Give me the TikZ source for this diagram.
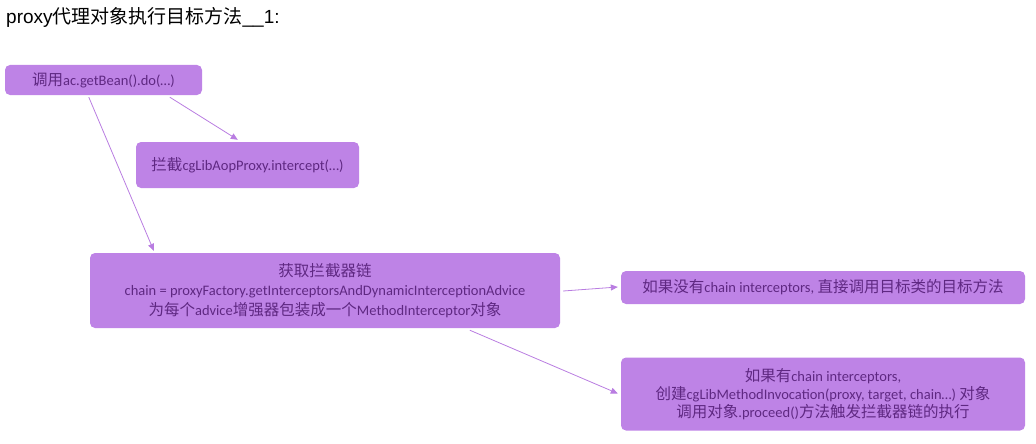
\documentclass[tikz,border=0pt]{standalone}
\usepackage{fontspec}
\setmainfont{Carlito}
\newfontfamily\cjk[Scale=1.07]{Noto Sans CJK SC}
\newfontfamily\titlecjk{Noto Sans CJK SC}
\newfontfamily\titlelat{Liberation Sans}
\usetikzlibrary{calc,arrows.meta}
\definecolor{boxfill}{RGB}{190,131,230}
\definecolor{boxtext}{RGB}{95,40,130}
\definecolor{linkcol}{RGB}{185,125,225}
\newcommand\zh[1]{{\cjk #1}}
\tikzset{
  pbox/.style={draw=none, fill=boxfill, rounded corners=5pt, text=boxtext,
    font=\fontsize{14.5}{18.5}\selectfont, align=center, inner sep=0pt},
  link/.style={draw=linkcol, line width=0.8pt, -{Triangle[length=7pt,width=6pt]}}
}
\begin{document}
\begin{tikzpicture}[x=1pt,y=-1pt]
\useasboundingbox (0,0) rectangle (1036,444);
\node[anchor=base west, inner sep=0pt, font=\fontsize{19}{22}\selectfont] (title) at (6,24)
  {\titlelat proxy{\titlecjk 代理对象执行目标方法}\_\_1:};
\node[pbox, minimum width=197pt, minimum height=30pt] (A) at (103.5,80)
  {\zh{调用}ac.getBean().do(…)};
\node[pbox, minimum width=223pt, minimum height=46pt] (B) at (247.5,165)
  {\zh{拦截}cgLibAopProxy.intercept(…)};
\node[pbox, minimum width=470pt, minimum height=75pt, font=\fontsize{14.5}{19.5}\selectfont] (C) at (325,290.5)
  {\zh{获取拦截器链}\\chain = proxyFactory.getInterceptorsAndDynamicInterceptionAdvice\\\zh{为每个}advice\zh{增强器包装成一个}MethodInterceptor\zh{对象}};
\node[pbox, minimum width=404pt, minimum height=33pt] (D) at (823,287.5)
  {\zh{如果没有}chain interceptors, \zh{直接调用目标类的目标方法}};
\node[pbox, minimum width=404pt, minimum height=73pt, font=\fontsize{14.5}{18}\selectfont] (E) at (823,394)
  {\zh{如果有}chain interceptors,\\\zh{创建}cgLibMethodInvocation(proxy, target, chain…) \zh{对象}\\\zh{调用对象}.proceed()\zh{方法触发拦截器链的执行}};
\draw[link] ($(A.south west)+(165,2)$) -- ($(B.north west)+(102,-2)$);
\draw[link] ($(A.south west)+(84,2)$) -- ($(C.north west)+(64,-2)$);
\draw[link] ($(C.east)+(3,0.5)$) -- ($(D.west)+(-3,-0.5)$);
\draw[link] ($(C.south west)+(380,2)$) -- ($(E.west)+(-3,-0.5)$);
\end{tikzpicture}
\end{document}
